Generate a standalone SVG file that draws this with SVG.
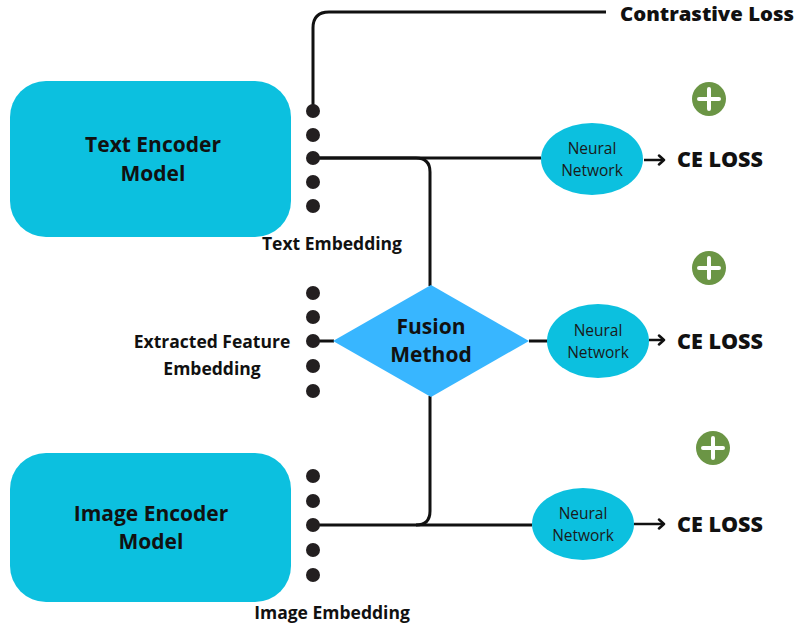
<svg xmlns="http://www.w3.org/2000/svg" width="799" height="628" viewBox="0 0 799 628">
  <defs>
    <style>
      .enc { fill: #0cc0df; }
      .nn { fill: #0cc0df; }
      .fuse { fill: #38b6ff; }
      .dot { fill: #231f20; }
      .wire { fill: none; stroke: #111; stroke-width: 3; }
      .arrow { fill: none; stroke: #111; stroke-width: 2.5; }
      .head { fill: none; stroke: #111; stroke-width: 2.5; stroke-linecap: round; stroke-linejoin: round; }
      .t { font-family: "Open Sans", "Liberation Sans", sans-serif; fill: #111; text-anchor: middle; }
      .b20 { font-size: 21px; font-weight: 700; }
      .b22 { font-size: 21.5px; font-weight: 800; }
      .b17 { font-size: 17.5px; font-weight: 700; }
      .r15 { font-size: 15.5px; font-weight: 400; fill: #1a1a1a; }
      .plus circle { fill: #6b9545; }
      .plus path { stroke: #fff; stroke-width: 4; stroke-linecap: round; }
    </style>
    <marker id="chev" markerWidth="12" markerHeight="12" refX="9" refY="6" orient="auto" markerUnits="userSpaceOnUse">
      <path class="head" d="M4,1.5 L9,6 L4,10.5"/>
    </marker>
  </defs>

  <rect width="799" height="628" fill="#fff"/>

  <!-- connectors -->
  <g id="connectors">
    <path class="wire" d="M313,111 V28 Q313,12 329,12 H606"/>
    <path class="wire" d="M313,158 H541"/>
    <path class="wire" d="M313,158 H416 Q430,158 430,172 V286"/>
    <path class="wire" d="M313,341 H334"/>
    <path class="wire" d="M529,341 H548"/>
    <path class="wire" d="M430,396 V511 Q430,525 416,525 H313"/>
    <path class="wire" d="M416,525 H532"/>
    <path class="arrow" d="M644,160 H664" marker-end="url(#chev)"/>
    <path class="arrow" d="M649,340 H664" marker-end="url(#chev)"/>
    <path class="arrow" d="M634,524 H664" marker-end="url(#chev)"/>
  </g>

  <!-- text encoder -->
  <g id="text-encoder">
    <rect class="enc" x="10" y="81" width="281" height="156" rx="36"/>
    <text class="t b20" x="153" y="152">Text Encoder</text>
    <text class="t b20" x="153" y="181">Model</text>
  </g>

  <g id="text-embedding">
    <circle class="dot" cx="313" cy="111" r="7"/>
    <circle class="dot" cx="313" cy="135" r="7"/>
    <circle class="dot" cx="313" cy="158" r="7"/>
    <circle class="dot" cx="313" cy="182" r="7"/>
    <circle class="dot" cx="313" cy="206" r="7"/>
    <text class="t b17" x="332" y="250">Text Embedding</text>
  </g>

  <!-- extracted features -->
  <g id="feature-embedding">
    <circle class="dot" cx="313" cy="293" r="7"/>
    <circle class="dot" cx="313" cy="317" r="7"/>
    <circle class="dot" cx="313" cy="341" r="7"/>
    <circle class="dot" cx="313" cy="366" r="7"/>
    <circle class="dot" cx="313" cy="391" r="7"/>
    <text class="t b17" x="212" y="348">Extracted Feature</text>
    <text class="t b17" x="212" y="375">Embedding</text>
  </g>

  <!-- fusion -->
  <g id="fusion-method">
    <polygon class="fuse" points="431,285 529,341 431,397 333,341"/>
    <text class="t b20" x="431" y="334">Fusion</text>
    <text class="t b20" x="431" y="362">Method</text>
  </g>

  <!-- image encoder -->
  <g id="image-encoder">
    <rect class="enc" x="10" y="453" width="281" height="149" rx="36"/>
    <text class="t b20" x="151" y="521">Image Encoder</text>
    <text class="t b20" x="151" y="549">Model</text>
  </g>

  <g id="image-embedding">
    <circle class="dot" cx="313" cy="476" r="7"/>
    <circle class="dot" cx="313" cy="501" r="7"/>
    <circle class="dot" cx="313" cy="525" r="7"/>
    <circle class="dot" cx="313" cy="550" r="7"/>
    <circle class="dot" cx="313" cy="575" r="7"/>
    <text class="t b17" x="332" y="619">Image Embedding</text>
  </g>

  <!-- heads -->
  <g id="nn-text">
    <ellipse class="nn" cx="592" cy="159" rx="51" ry="36"/>
    <text class="t r15" x="592" y="154">Neural</text>
    <text class="t r15" x="592" y="176">Network</text>
  </g>
  <g id="nn-fusion">
    <ellipse class="nn" cx="598" cy="341" rx="51" ry="37"/>
    <text class="t r15" x="598" y="336">Neural</text>
    <text class="t r15" x="598" y="358">Network</text>
  </g>
  <g id="nn-image">
    <ellipse class="nn" cx="583" cy="524" rx="51" ry="36"/>
    <text class="t r15" x="583" y="519">Neural</text>
    <text class="t r15" x="583" y="541">Network</text>
  </g>

  <g id="ce-loss-1"><text class="t b22" x="720" y="167">CE LOSS</text></g>
  <g id="ce-loss-2"><text class="t b22" x="720" y="349">CE LOSS</text></g>
  <g id="ce-loss-3"><text class="t b22" x="720" y="532">CE LOSS</text></g>

  <g id="contrastive-loss"><text class="t b22" x="707" y="21" style="font-size:19.5px" textLength="174" lengthAdjust="spacingAndGlyphs">Contrastive Loss</text></g>

  <g id="plus-1" class="plus"><circle cx="709" cy="99" r="17"/><path d="M709,89 V109 M699,99 H719"/></g>
  <g id="plus-2" class="plus"><circle cx="709" cy="268" r="17"/><path d="M709,258 V278 M699,268 H719"/></g>
  <g id="plus-3" class="plus"><circle cx="713" cy="448" r="17"/><path d="M713,438 V458 M703,448 H723"/></g>
</svg>
